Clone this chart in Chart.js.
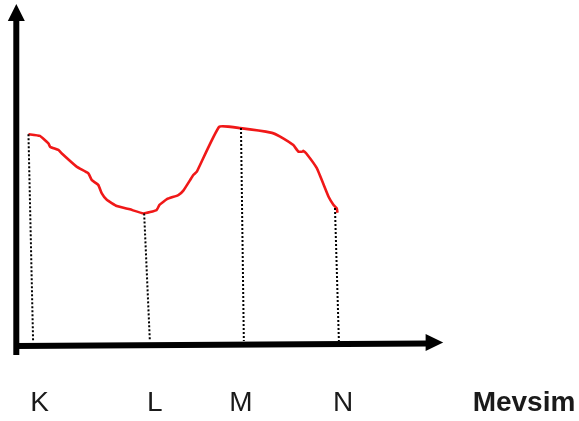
<!DOCTYPE html>
<html lang="tr">
<head>
    <meta charset="UTF-8">
    <title>Mevsim</title>
    <script src="https://cdn.jsdelivr.net/npm/chart.js"></script>
    <style>
        body { margin: 0; background: #fff; }
    </style>
</head>
<body>
    <canvas id="chart" width="579" height="421"></canvas>
    <script>
        // season labels under the x axis, and where they sit on the axis
        const seasons = ['K', 'L', 'M', 'N'];
        const seasonPos = [0.66, 3.90, 6.32, 9.19];
        const axisTitle = 'Mevsim';
        const axisTitlePos = 14.27;

        // the red hand drawn curve (x along the axis, y = value)
        const curveX = [0.35, 0.67, 0.91, 0.96, 1.19, 1.28, 1.71, 2.03, 2.13, 2.31, 2.41, 2.55, 2.83, 3.20,
            3.58, 3.95, 4.03, 4.24, 4.56, 4.70, 4.89, 4.98, 5.08, 5.71, 6.30, 7.19, 7.42, 7.79, 7.93,
            8.06, 8.07, 8.15, 8.45, 8.78, 8.92, 9.01, 9.03];
        const curveY = [6.17, 6.12, 5.90, 5.80, 5.71, 5.61, 5.21, 5.02, 4.82, 4.68, 4.43, 4.24, 4.06, 3.96,
            3.84, 3.94, 4.09, 4.26, 4.38, 4.51, 4.82, 4.97, 5.07, 6.39, 6.35, 6.21, 6.10, 5.85, 5.66,
            5.66, 5.68, 5.61, 5.17, 4.33, 4.09, 3.99, 3.86];

        // dotted drop lines from the curve down to the axis
        const dropTopX = [0.35, 3.60, 6.32, 8.96];
        const dropTopY = [6.17, 3.84, 6.35, 4.00];
        const dropBottomX = [0.48, 3.76, 6.40, 9.07];
        const dropBottomY = [0.09, 0.09, 0.09, 0.09];

        const tickPos = seasonPos.concat([axisTitlePos]);
        const tickLabels = seasons.concat([axisTitle]);

        const curveData = curveX.map((x, i) => ({ x: x, y: curveY[i] }));
        const dropSets = dropTopX.map((x, i) => ({
            data: [{ x: x, y: dropTopY[i] }, { x: dropBottomX[i], y: dropBottomY[i] }],
            borderColor: '#000',
            borderWidth: 2,
            borderDash: [2, 2],
            pointRadius: 0,
            tension: 0
        }));

        // thick black axes with arrow heads, drawn on the chart area
        const arrowAxes = {
            id: 'arrowAxes',
            afterDraw(chart) {
                const ctx = chart.ctx;
                const a = chart.chartArea;
                const xs = chart.scales.x;
                const left = a.left + 0.3;
                const tipX = xs.getPixelForValue(12);
                ctx.save();
                ctx.fillStyle = '#000';
                ctx.strokeStyle = '#000';
                ctx.lineWidth = 6;
                ctx.lineCap = 'butt';
                // y axis
                ctx.beginPath();
                ctx.moveTo(left, a.bottom + 11);
                ctx.lineTo(left, a.top + 16);
                ctx.stroke();
                ctx.beginPath();
                ctx.moveTo(left, a.top);
                ctx.lineTo(left - 8.5, a.top + 17);
                ctx.lineTo(left + 8.5, a.top + 17);
                ctx.closePath();
                ctx.fill();
                // x axis (slightly tilted like the original drawing)
                ctx.beginPath();
                ctx.moveTo(left, a.bottom + 2);
                ctx.lineTo(tipX - 16, a.bottom - 0.5);
                ctx.stroke();
                ctx.beginPath();
                ctx.moveTo(tipX, a.bottom - 1.5);
                ctx.lineTo(tipX - 17.6, a.bottom - 10);
                ctx.lineTo(tipX - 17.6, a.bottom + 7);
                ctx.closePath();
                ctx.fill();
                ctx.restore();
            }
        };

        new Chart(document.getElementById('chart').getContext('2d'), {
            type: 'line',
            data: {
                datasets: dropSets.concat([{
                    data: curveData,
                    borderColor: 'rgb(240, 24, 24)',
                    borderWidth: 2.6,
                    pointRadius: 0,
                    tension: 0.12
                }])
            },
            options: {
                responsive: false,
                animation: false,
                devicePixelRatio: 1,
                layout: { padding: { left: 16, top: 4, right: 29, bottom: 0 } },
                plugins: { legend: { display: false }, tooltip: { enabled: false } },
                scales: {
                    x: {
                        type: 'linear',
                        min: 0,
                        max: 15,
                        grid: { display: false, drawTicks: false },
                        border: { display: false },
                        afterBuildTicks: scale => { scale.ticks = tickPos.map(v => ({ value: v })); },
                        afterFit: scale => {
                            scale.height = 77;
                            scale.paddingLeft = 0;
                            scale.paddingRight = 0;
                        },
                        ticks: {
                            autoSkip: false,
                            maxRotation: 0,
                            minRotation: 0,
                            padding: 42,
                            color: '#1a1a1a',
                            font: ctx => ({
                                family: '"Liberation Sans", Arial, sans-serif',
                                size: 28,
                                weight: ctx.index === 4 ? 'bold' : 'normal'
                            }),
                            callback: (value, index) => tickLabels[index]
                        }
                    },
                    y: { type: 'linear', min: 0, max: 10, display: false }
                }
            },
            plugins: [arrowAxes]
        });
    </script>
</body>
</html>
